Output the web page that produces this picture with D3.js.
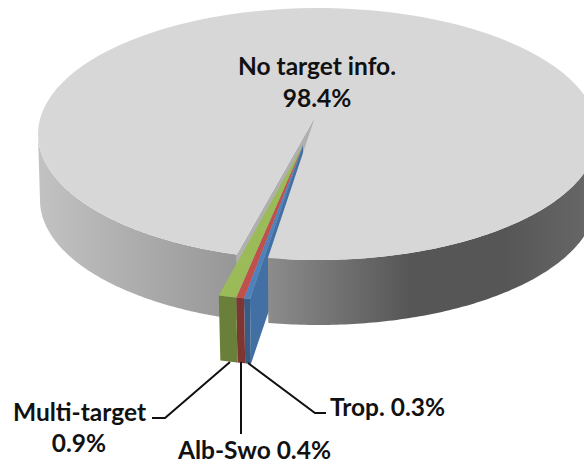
<!DOCTYPE html>
<html lang="en">
<head>
<meta charset="utf-8">
<script src="https://d3js.org/d3.v7.min.js"></script>
<style>
  html, body { margin: 0; padding: 0; background: #fff; }
  text { font-family: Lato, "Open Sans", sans-serif; font-weight: 700; font-size: 24.5px; fill: #111; }
</style>
</head>
<body>
<div id="chart"></div>
<script>
// pie values, clockwise starting from the small exploded slices
const categories = ["Trop.", "Alb-Swo", "Multi-target", "No target info."];
const shares = [0.3, 0.4, 0.9, 98.4];

const topColors = ["#4f81bd", "#c0504d", "#9bbb59", "#d7d7d7"];
const frontColors = ["#375c85", "#7f3633", "#6a7f3a"];
const cutColor = "#4270a5";

const width = 584, height = 469;
const wedgeDepth = 65;
const startDeg = 189.6;
const rad = Math.PI / 180;

// main disc and the pulled out wedge have their own centre and radius (perspective)
const mainTop = {cx: 318, cy: 134, rx: 280, ry: 126};
const mainBottom = {cx: 318, cy: 200, rx: 278, ry: 125};
const apex = [315, 117];
const wedgeTop = {cx: 303, cy: 145, rx: 318, ry: 156};
const wedgeBottom = {cx: 303, cy: 145 + wedgeDepth, rx: 312, ry: 156};

const svg = d3.select("#chart").append("svg")
  .attr("width", width).attr("height", height)
  .style("display", "block");

const slices = d3.pie().sort(null)
  .startAngle(startDeg * rad)
  .endAngle((startDeg + 360) * rad)(shares);

// project a pie angle on the flattened ellipse, 0 = up, clockwise
function pt(disc, a) {
  return [disc.cx + disc.rx * Math.sin(a), disc.cy - disc.ry * Math.cos(a)];
}
function arcPts(disc, a0, a1) {
  return d3.range(0, 121).map(function(i) { return pt(disc, a0 + (a1 - a0) * i / 120); });
}
const line = d3.line();

const defs = svg.append("defs");
function grad(id, x1, x2, stops) {
  const g = defs.append("linearGradient").attr("id", id)
    .attr("gradientUnits", "userSpaceOnUse")
    .attr("x1", x1).attr("x2", x2).attr("y1", 0).attr("y2", 0);
  stops.forEach(function(s) {
    g.append("stop").attr("offset", s[0]).attr("stop-color", s[1]);
  });
}
grad("sideLeft", 38, 240, [[0, "#c2c2c2"], [1, "#969696"]]);
grad("sideRight", 268, 584, [[0, "#8c8c8c"], [0.45, "#565656"], [0.75, "#565656"], [1, "#666666"]]);

// rim of the big slice sits slightly clockwise of the wedge angles
const gapLeft = slices[3].startAngle + 1.5 * rad;
const gapRight = slices[3].endAngle + 0.7 * rad - 2 * Math.PI;
const quarter = Math.PI / 2;

// left outer wall, from the gap round to the far left
svg.append("path")
  .attr("d", line(arcPts(mainTop, gapLeft, 3 * quarter)
    .concat(arcPts(mainBottom, 3 * quarter, gapLeft))) + "Z")
  .attr("fill", "url(#sideLeft)");

// cut face seen through the gap
svg.append("path")
  .attr("d", line([apex, pt(mainTop, gapLeft), pt(mainBottom, gapLeft), [apex[0], apex[1] + wedgeDepth]]) + "Z")
  .attr("fill", "#b0b0b0");

// blue cut face of the wedge
svg.append("path")
  .attr("d", line([
    [wedgeTop.cx, wedgeTop.cy],
    pt(wedgeTop, slices[0].startAngle),
    pt(wedgeBottom, slices[0].startAngle),
    [wedgeBottom.cx, wedgeBottom.cy]
  ]) + "Z")
  .attr("fill", cutColor);

// right outer wall goes over the wedge cut face
svg.append("path")
  .attr("d", line(arcPts(mainTop, quarter, gapRight)
    .concat(arcPts(mainBottom, gapRight, quarter))) + "Z")
  .attr("fill", "url(#sideRight)");

// top of the big slice, with the gap left open
svg.append("path")
  .attr("d", line([apex].concat(arcPts(mainTop, gapLeft, gapRight + 2 * Math.PI))) + "Z")
  .attr("fill", topColors[3]);

// wedge: front walls and tops
slices.slice(0, 3).forEach(function(d, i) {
  const rim = arcPts(wedgeTop, d.startAngle, d.endAngle);
  svg.append("path")
    .attr("d", line(rim.concat(arcPts(wedgeBottom, d.endAngle, d.startAngle))) + "Z")
    .attr("fill", frontColors[i]);
  svg.append("path")
    .attr("d", line([[wedgeTop.cx, wedgeTop.cy]].concat(rim)) + "Z")
    .attr("fill", topColors[i]);
});

// leader lines
const leaders = [
  [[248, 363], [315, 413], [326, 413]],
  [[241, 362], [241, 434]],
  [[230, 362], [165, 418], [152, 418]]
];
leaders.forEach(function(l) {
  svg.append("path").attr("d", line(l))
    .attr("fill", "none").attr("stroke", "#111").attr("stroke-width", 2);
});

// labels
const pct = shares.map(function(v) { return v.toFixed(1) + "%"; });
function label(str, x, y, anchor) {
  svg.append("text").attr("x", x).attr("y", y).attr("text-anchor", anchor).text(str);
}
label(categories[3], 317, 75, "middle");
label(pct[3], 317, 107, "middle");
label(categories[2], 13, 421, "start");
label(pct[2], 79, 452, "middle");
label(categories[1] + " " + pct[1], 178, 459, "start");
label(categories[0] + " " + pct[0], 330, 416, "start");
</script>
</body>
</html>
